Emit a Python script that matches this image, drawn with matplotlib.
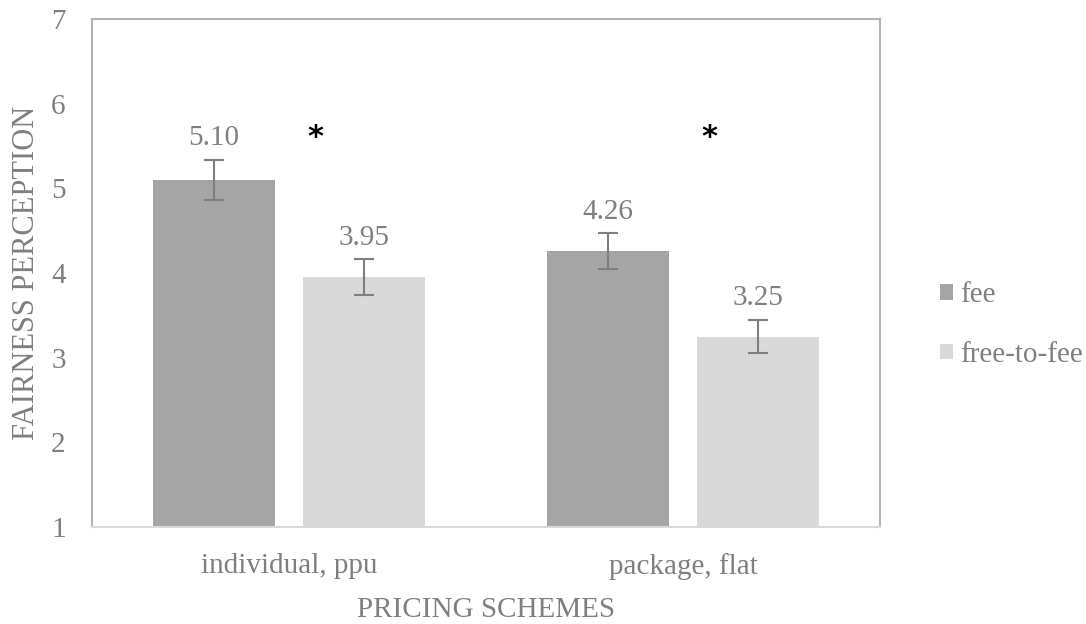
import matplotlib
matplotlib.use("Agg")
import matplotlib.pyplot as plt
from matplotlib.patches import Patch
import numpy as np

categories = ["individual, ppu", "package, flat"]
series_names = ["fee", "free-to-fee"]
fee_means = [5.10, 4.26]
free_to_fee_means = [3.95, 3.25]
fee_err = [0.24, 0.21]
free_to_fee_err = [0.21, 0.20]
value_labels_fee = ["5.10", "4.26"]
value_labels_free = ["3.95", "3.25"]
significance = ["*", "*"]
y_ticks = [1, 2, 3, 4, 5, 6, 7]

plt.rcParams["font.family"] = ["Liberation Serif", "DejaVu Serif"]
TEXT = "#7f7f7f"
DARK = "#a5a5a5"
LIGHT = "#d9d9d9"
FS = 21

fig = plt.figure(figsize=(10.86, 6.24), dpi=100)
ax = fig.add_axes([92 / 1086, 1 - 527 / 624, (880 - 92) / 1086, (527 - 19) / 624])

x = np.arange(len(categories))
width = 0.31
offset = 0.19

err_kw = dict(ecolor=TEXT, elinewidth=1.5, capsize=7.5, capthick=1.5)
ax.bar(x - offset, np.array(fee_means) - 1, width, bottom=1, color=DARK,
       yerr=fee_err, error_kw=err_kw, zorder=2)
ax.bar(x + offset, np.array(free_to_fee_means) - 1, width, bottom=1, color=LIGHT,
       yerr=free_to_fee_err, error_kw=err_kw, zorder=2)

for xi, m, e, lab in zip(x - offset, fee_means, fee_err, value_labels_fee):
    ax.annotate(lab, (xi, m + e), xytext=(0, 6), textcoords="offset points",
                ha="center", va="bottom", fontsize=FS, color=TEXT)
for xi, m, e, lab in zip(x + offset, free_to_fee_means, free_to_fee_err, value_labels_free):
    ax.annotate(lab, (xi, m + e), xytext=(0, 6), textcoords="offset points",
                ha="center", va="bottom", fontsize=FS, color=TEXT)

for xi, s in zip(x, significance):
    ax.text(xi + 0.067, 5.6, s, ha="center", va="center", fontsize=22,
            fontweight="bold", color="black", family="DejaVu Sans")

ax.set_xlim(-0.5, 1.5)
ax.set_ylim(1, 7)
ax.set_yticks(y_ticks)
ax.set_xticks(x)
ax.set_xticklabels(categories)
ax.tick_params(axis="both", length=0, labelsize=FS, colors=TEXT)
ax.tick_params(axis="y", pad=19)
ax.tick_params(axis="x", pad=19)

for side in ["left", "top", "right"]:
    ax.spines[side].set_color("#b3b3b3")
    ax.spines[side].set_linewidth(1.5)
ax.spines["bottom"].set_color("#d9d9d9")
ax.spines["bottom"].set_linewidth(1.5)

ax.set_xlabel("PRICING SCHEMES", fontsize=FS, color=TEXT, labelpad=12)
ax.set_ylabel("FAIRNESS PERCEPTION", fontsize=22, color=TEXT, labelpad=7)

handles = [Patch(facecolor=DARK, edgecolor="none"), Patch(facecolor=LIGHT, edgecolor="none")]
leg = fig.legend(handles, series_names, loc="center left",
                 bbox_to_anchor=(940 / 1086, 1 - 325 / 624), frameon=False,
                 borderpad=0, borderaxespad=0,
                 fontsize=FS, handlelength=0.45, handleheight=0.45,
                 handletextpad=0.25, labelspacing=1.15)
for t in leg.get_texts():
    t.set_color(TEXT)

fig.savefig("out.png", dpi=100, facecolor="white")
